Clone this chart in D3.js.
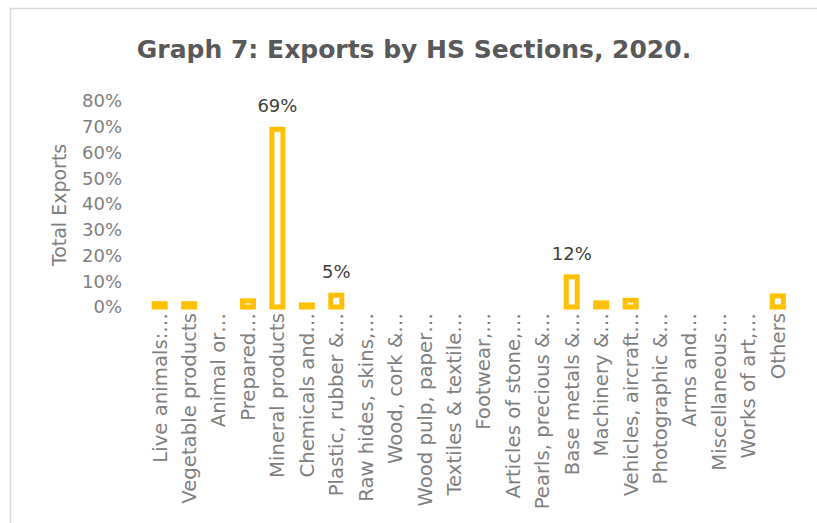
<!DOCTYPE html>
<html>
<head>
<meta charset="utf-8">
<title>Exports by HS Sections</title>
<script src="https://d3js.org/d3.v7.min.js"></script>
<style>
  body { margin: 0; background: #fff; }
  text { font-family: "DejaVu Sans", sans-serif; }
</style>
</head>
<body>
<script>
// categories (truncated as in the original)
var sections = [
  "Live animals:\u2026", "Vegetable products", "Animal or\u2026", "Prepared\u2026",
  "Mineral products", "Chemicals and\u2026", "Plastic, rubber &\u2026", "Raw hides, skins,\u2026",
  "Wood, cork &\u2026", "Wood pulp, paper\u2026", "Textiles & textile\u2026", "Footwear,\u2026",
  "Articles of stone,\u2026", "Pearls, precious &\u2026", "Base metals &\u2026", "Machinery &\u2026",
  "Vehicles, aircraft\u2026", "Photographic &\u2026", "Arms and\u2026", "Miscellaneous\u2026",
  "Works of art,\u2026", "Others"
];
// share of total exports
var shares = [
  0.013, 0.013, 0, 0.024, 0.69, 0.008, 0.046, 0, 0, 0, 0, 0,
  0, 0, 0.117, 0.016, 0.026, 0, 0, 0, 0, 0.043
];
// which bars get a data label
var labelled = ["Mineral products", "Plastic, rubber &\u2026", "Base metals &\u2026"];
var yTicks = [0, 0.1, 0.2, 0.3, 0.4, 0.5, 0.6, 0.7, 0.8];

var width = 817, height = 523;
var data = sections.map(function(s, i) { return { name: s, value: shares[i] }; });

var svg = d3.select("body").append("svg")
  .attr("width", width)
  .attr("height", height);

// outer chart border
svg.append("rect")
  .attr("x", 10.5).attr("y", 8.5)
  .attr("width", width + 20).attr("height", height + 20)
  .attr("fill", "none")
  .attr("stroke", "#d9d9d9")
  .attr("stroke-width", 1.5);

var x = d3.scaleBand()
  .domain(sections)
  .range([145, 792.5]);

var y = d3.scaleLinear()
  .domain([0, 0.8])
  .range([307, 101]);

svg.append("text")
  .attr("x", 414).attr("y", 58)
  .attr("text-anchor", "middle")
  .attr("font-size", 25)
  .attr("font-weight", "bold")
  .attr("fill", "#595959")
  .text("Graph 7: Exports by HS Sections, 2020.");

// y axis (labels only)
var yAxis = svg.append("g")
  .attr("transform", "translate(122,0)")
  .call(d3.axisLeft(y).tickValues(yTicks).tickFormat(d3.format(".0%")).tickSize(0).tickPadding(0));
yAxis.select(".domain").remove();
yAxis.selectAll("text")
  .attr("font-size", 18)
  .attr("fill", "#7f7f7f")
  .attr("font-family", "'DejaVu Sans', sans-serif");

svg.append("text")
  .attr("transform", "translate(66,205) rotate(-90)")
  .attr("text-anchor", "middle")
  .attr("font-size", 19)
  .attr("fill", "#7f7f7f")
  .text("Total Exports");

// x axis (rotated category labels)
var xAxis = svg.append("g")
  .attr("transform", "translate(0,313)")
  .call(d3.axisBottom(x).tickSize(0).tickPadding(0));
xAxis.select(".domain").remove();
xAxis.selectAll("text")
  .attr("font-size", 19.7)
  .attr("fill", "#7f7f7f")
  .attr("font-family", "'DejaVu Sans', sans-serif")
  .attr("text-anchor", "end")
  .attr("dy", "0.35em")
  .attr("transform", "rotate(-90)");

var bw = x.bandwidth() * 0.374;

svg.append("g")
  .selectAll("rect")
  .data(data.filter(function(d) { return d.value > 0; }))
  .enter().append("rect")
    .attr("x", function(d) { return x(d.name) + x.bandwidth() / 2 - bw / 2; })
    .attr("y", function(d) { return y(d.value); })
    .attr("width", bw)
    .attr("height", function(d) { return y(0) - y(d.value); })
    .attr("fill", "#fff")
    .attr("stroke", "#ffc000")
    .attr("stroke-width", 5);

svg.append("g")
  .selectAll("text")
  .data(data.filter(function(d) { return labelled.indexOf(d.name) >= 0; }))
  .enter().append("text")
    .attr("x", function(d) { return x(d.name) + x.bandwidth() / 2; })
    .attr("y", function(d) { return y(d.value) - 17; })
    .attr("text-anchor", "middle")
    .attr("font-size", 18)
    .attr("fill", "#404040")
    .text(function(d) { return d3.format(".0%")(d.value); });
</script>
</body>
</html>
